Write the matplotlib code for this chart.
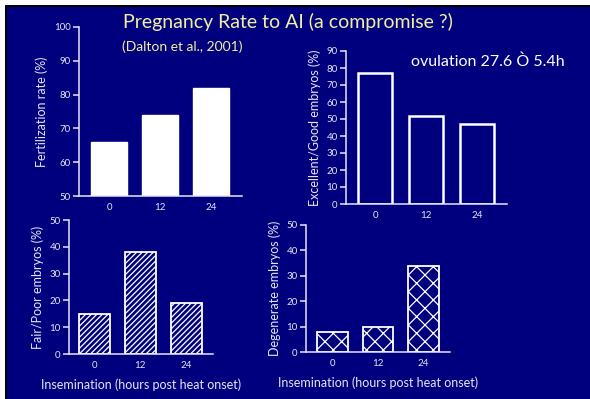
import matplotlib
matplotlib.use("Agg")
import matplotlib.pyplot as plt
from matplotlib.patches import Rectangle

W, H = 590, 399
NAVY = "#00007f"
FG = "#e6e6f2"
YELLOW = "#f2f0a0"

hours = ["0", "12", "24"]
fertilization = [66, 74, 82]
excellent_good = [77, 52, 47]
fair_poor = [15, 38, 19]
degenerate = [8, 10, 34]

plt.rcParams["font.family"] = ["Lato", "DejaVu Sans"]
plt.rcParams["hatch.color"] = "white"
plt.rcParams["hatch.linewidth"] = 0.9

fig = plt.figure(figsize=(W / 100, H / 100), dpi=100, facecolor="white")

# slide background with dark edge on top and left
fig.patches.append(Rectangle((5 / W, 0), 1, 1 - 5 / H, transform=fig.transFigure,
                             facecolor="black", edgecolor="none", zorder=-2))
fig.patches.append(Rectangle((7 / W, 0), 1, 1 - 7 / H, transform=fig.transFigure,
                             facecolor=NAVY, edgecolor="none", zorder=-1))


def px_axes(x0, x1, ytop, ybot):
    return fig.add_axes([x0 / W, 1 - ybot / H, (x1 - x0) / W, (ybot - ytop) / H])


def style(ax, ylabel, xlim):
    ax.set_facecolor("none")
    for s in ("top", "right"):
        ax.spines[s].set_visible(False)
    for s in ("left", "bottom"):
        ax.spines[s].set_color(FG)
        ax.spines[s].set_linewidth(1.1)
    ax.set_xlim(*xlim)
    ax.set_xticks(range(len(hours)))
    ax.set_xticklabels(hours)
    ax.tick_params(axis="x", length=0, pad=5, colors=FG, labelsize=7)
    ax.tick_params(axis="y", direction="out", length=4, width=1.1, colors=FG,
                   labelsize=7, pad=2)
    ax.set_ylabel(ylabel, color=FG, fontsize=9, labelpad=4)


# Fertilization rate
ax1 = px_axes(79, 242, 27, 196)
ax1.bar(range(3), fertilization, width=0.7, color="white", edgecolor="white", zorder=2)
ax1.set_ylim(50, 100)
ax1.set_yticks(range(50, 101, 10))
style(ax1, "Fertilization rate (%)", (-0.59, 2.6))

# Excellent / good embryos
ax2 = px_axes(346, 507, 51, 204)
ax2.bar(range(3), excellent_good, width=0.66, facecolor=NAVY, edgecolor="white",
        linewidth=1.8, zorder=2)
ax2.set_ylim(0, 90)
ax2.set_yticks(range(0, 91, 10))
style(ax2, "Excellent/Good embryos (%)", (-0.57, 2.58))

# Fair / poor embryos
ax3 = px_axes(69, 213, 220, 354)
ax3.bar(range(3), fair_poor, width=0.67, facecolor=NAVY, edgecolor="white",
        linewidth=1.3, hatch="//////", zorder=2)
ax3.set_ylim(0, 50)
ax3.set_yticks(range(0, 51, 10))
style(ax3, "Fair/Poor embryos (%)", (-0.55, 2.58))
ax3.set_xlabel("Insemination (hours post heat onset)", color=FG, fontsize=9, labelpad=6)

# Degenerate embryos
ax4 = px_axes(306, 450, 225, 352)
ax4.bar(range(3), degenerate, width=0.68, facecolor=NAVY, edgecolor="white",
        linewidth=1.3, hatch="xx", zorder=2)
ax4.set_ylim(0, 50)
ax4.set_yticks(range(0, 51, 10))
style(ax4, "Degenerate embryos (%)", (-0.58, 2.58))
ax4.set_xlabel("Insemination (hours post heat onset)", color=FG, fontsize=9, labelpad=6)

fig.text(288 / W, 1 - 22 / H, "Pregnancy Rate to AI (a compromise ?)", color=YELLOW,
         fontsize=14, ha="center", va="center")
fig.text(182 / W, 1 - 47 / H, "(Dalton et al., 2001)", color=YELLOW,
         fontsize=10, ha="center", va="center")
fig.text(488 / W, 1 - 62 / H, "ovulation 27.6 Ò 5.4h", color="white",
         fontsize=11.5, ha="center", va="center")

fig.savefig("out.png", dpi=100, facecolor=fig.get_facecolor())
